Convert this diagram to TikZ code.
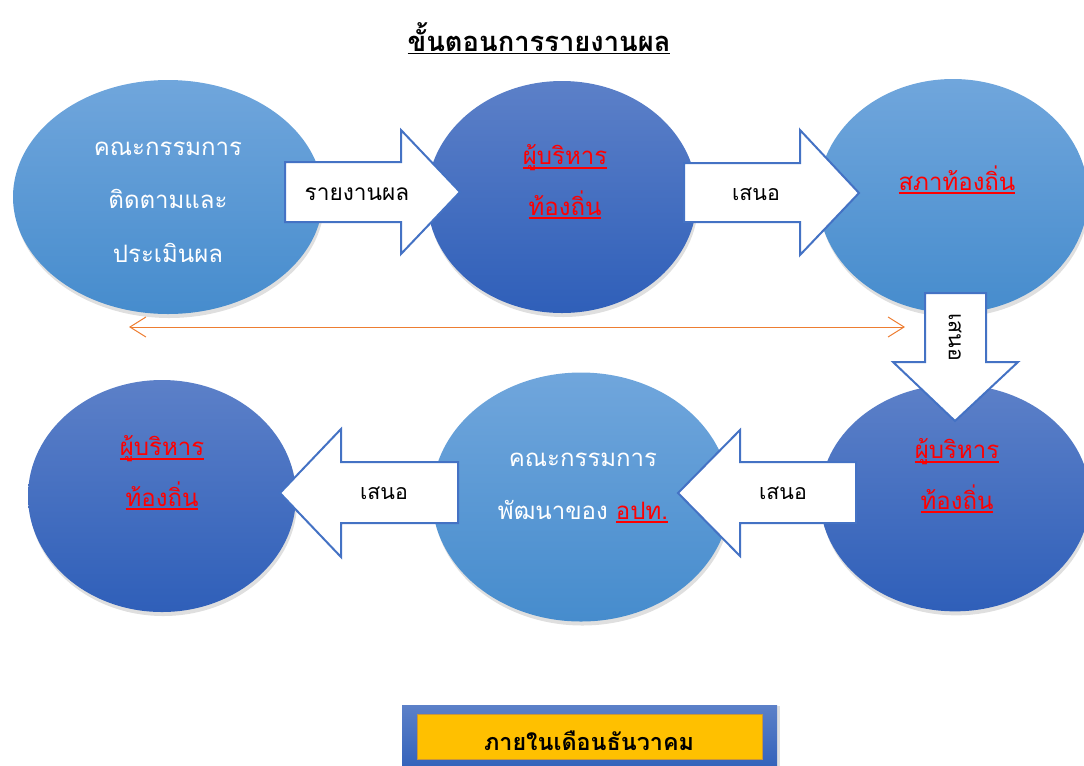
\documentclass[tikz,border=0pt]{standalone}
\usepackage{fontspec}
\setmainfont[Script=Thai]{Loma}
\usetikzlibrary{shapes.geometric,shadows,arrows.meta}

\definecolor{lighttop}{RGB}{112,166,220}
\definecolor{lightbot}{RGB}{70,140,205}
\definecolor{darktop}{RGB}{92,128,200}
\definecolor{darkbot}{RGB}{47,95,185}
\definecolor{arrowblue}{RGB}{68,114,196}
\definecolor{lineorange}{RGB}{237,125,49}
\definecolor{boxyellow}{RGB}{255,192,0}

\newcommand{\redul}[1]{\setbox0\hbox{#1}\rlap{\rule[-3pt]{\wd0}{1.5pt}}\box0}

\tikzset{every picture/.style={line width=0.75pt}}
\tikzset{
  lightell/.style={ellipse, inner sep=0pt, top color=lighttop, bottom color=lightbot,
    drop shadow={shadow xshift=1pt, shadow yshift=-3pt, opacity=0.25}},
  darkell/.style={ellipse, inner sep=0pt, top color=darktop, bottom color=darkbot,
    drop shadow={shadow xshift=1pt, shadow yshift=-3pt, opacity=0.25}},
  blockarrow/.style={draw=arrowblue, fill=white, line width=1.5pt},
  whitetxt/.style={text=white, align=center, font=\fontsize{18}{40}\selectfont},
  redtxt/.style={text=red, align=center, font=\fontsize{18}{38}\selectfont},
  arrowtxt/.style={text=black, font=\fontsize{16}{18}\selectfont}
}

\begin{document}
\begin{tikzpicture}[x=0.75pt,y=0.75pt,yscale=-1,xscale=1]
    \useasboundingbox (0,0) rectangle (1084,765);

    %Shape: Ellipse [committee]
    \node [lightell, minimum width=232.5pt, minimum height=175.5pt] (commit) at (168,197) {};
    %Shape: Ellipse [executive top]
    \node [darkell, minimum width=202.5pt, minimum height=174pt] (exectop) at (562,197) {};
    %Shape: Ellipse [council]
    \node [lightell, minimum width=202.5pt, minimum height=175.5pt] (council) at (953,196) {};
    %Shape: Ellipse [executive right]
    \node [darkell, minimum width=202.5pt, minimum height=170pt] (execright) at (955,498) {};
    %Shape: Ellipse [development committee]
    \node [lightell, minimum width=223.5pt, minimum height=186.75pt] (devel) at (581,497) {};
    %Shape: Ellipse [executive left]
    \node [darkell, minimum width=201pt, minimum height=174pt] (execleft) at (162,496) {};

    %Shape: Right Arrow [report]
    \draw [blockarrow] (285,162) -- (401,162) -- (401,130) -- (460,192) -- (401,254) -- (401,222) -- (285,222) -- cycle ;
    %Shape: Right Arrow [propose top]
    \draw [blockarrow] (684,163) -- (800,163) -- (800,130) -- (859,193) -- (800,255) -- (800,222) -- (684,222) -- cycle ;
    %Shape: Down Arrow [propose down]
    \draw [blockarrow] (925,293) -- (986,293) -- (986,362) -- (1018,362) -- (955,421) -- (893,362) -- (925,362) -- cycle ;
    %Shape: Left Arrow [propose bottom right]
    \draw [blockarrow] (856,462) -- (740,462) -- (740,430) -- (678,493) -- (740,556) -- (740,523) -- (856,523) -- cycle ;
    %Shape: Left Arrow [propose bottom left]
    \draw [blockarrow] (458,462) -- (341,462) -- (341,429) -- (280,493) -- (341,557) -- (341,523) -- (458,523) -- cycle ;

    %Straight Lines [orange span]
    \coordinate (spanl) at (129,327);
    \coordinate (spanr) at (905,327);
    \draw [lineorange, {Straight Barb[length=12pt,width=15pt]}-{Straight Barb[length=12pt,width=15pt]}] (spanl) -- (spanr) ;

    %Shape: Rectangle [deadline frame]
    \draw [draw=none, top color=darktop, bottom color=darkbot, drop shadow={shadow xshift=2pt, shadow yshift=-1pt, opacity=0.25}] (402,705) rectangle (777,775) ;
    %Shape: Rectangle [deadline]
    \draw [fill=boxyellow, draw={rgb,255:red,200;green,150;blue,60}, line width=0.5pt] (417,714) rectangle (762,759) ;

    % Text Node
    \node (title) at (539,38) {\fontsize{20.5}{24}\selectfont\bfseries\underline{ขั้นตอนการรายงานผล}};
    % Text Node
    \node [whitetxt] (commitxt) at (168,202) {คณะกรรมการ\\ติดตามและ\\ประเมินผล};
    % Text Node
    \node [redtxt] (exectoptxt) at (565,182) {\redul{ผู้บริหาร}\\\redul{ท้องถิ่น}};
    % Text Node
    \node [redtxt] (counciltxt) at (957,180) {\redul{สภาท้องถิ่น}};
    % Text Node
    \node [redtxt] (execrighttxt) at (957,476) {\redul{ผู้บริหาร}\\\redul{ท้องถิ่น}};
    % Text Node
    \node [whitetxt] (develtxt) at (583,488) {คณะกรรมการ\\พัฒนาของ \textcolor{red}{\redul{อปท.}}};
    % Text Node
    \node [redtxt] (execlefttxt) at (162,473) {\redul{ผู้บริหาร}\\\redul{ท้องถิ่น}};
    % Text Node
    \node [arrowtxt] (reporttxt) at (357,194) {\fontsize{17}{18}\selectfont รายงานผล};
    % Text Node
    \node [arrowtxt] (proptoptxt) at (756,194) {เสนอ};
    % Text Node
    \node [arrowtxt, rotate=-90] (propdowntxt) at (955,337) {เสนอ};
    % Text Node
    \node [arrowtxt] (propbrtxt) at (783,493) {เสนอ};
    % Text Node
    \node [arrowtxt] (propbltxt) at (384,493) {เสนอ};
    % Text Node
    \node (deadlinetxt) at (589,741) {\fontsize{17.5}{20}\selectfont\bfseries ภายในเดือนธันวาคม};
\end{tikzpicture}
\end{document}
